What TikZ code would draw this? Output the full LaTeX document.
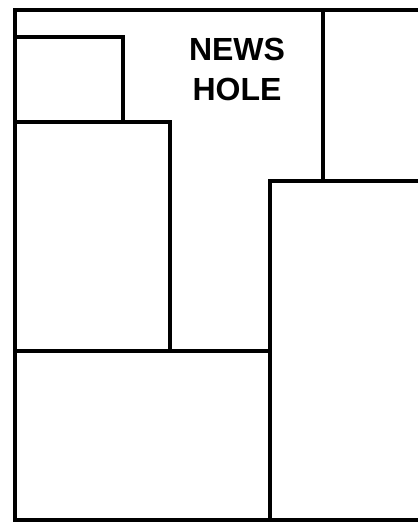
\documentclass[tikz,border=0pt]{standalone}
\usepackage{fontspec}
\setmainfont{Liberation Sans}

\begin{document}
\begin{tikzpicture}[x=1pt,y=-1pt,line width=4pt]
    \useasboundingbox (0,0) rectangle (418,522);
    \coordinate (TL) at (15,10);
    \coordinate (TR) at (418,10);
    \coordinate (BL) at (15,520);
    \coordinate (BR) at (418,520);
    \draw (TR) -- (TL) -- (BL) -- (BR);
    \draw (15,37) -- (123,37) -- (123,122);
    \draw (15,122) -- (170,122) -- (170,351);
    \draw (323,10) -- (323,181);
    \draw (418,181) -- (270,181) -- (270,520);
    \draw (15,351) -- (270,351);
    \node[font=\fontsize{32}{40}\selectfont\bfseries, align=center] (news) at (237,69) {NEWS\\HOLE};
    \end{tikzpicture}
\end{document}
